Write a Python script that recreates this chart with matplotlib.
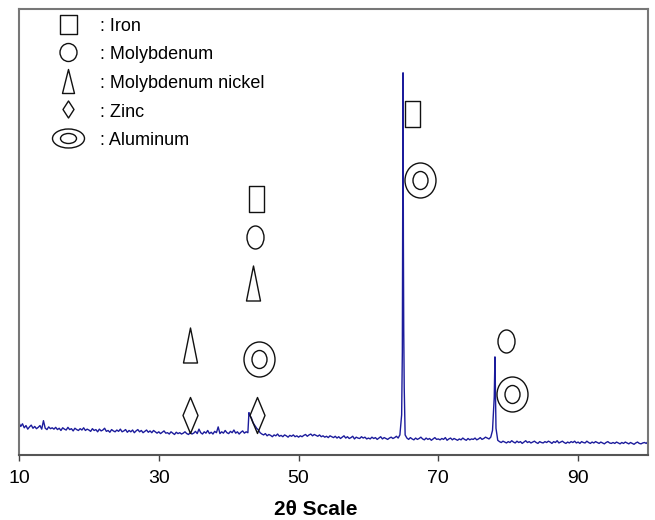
import matplotlib.pyplot as plt
import numpy as np
from matplotlib.path import Path
from matplotlib.transforms import Affine2D
from matplotlib.lines import Line2D

plt.rcParams['font.family'] = ['Liberation Sans', 'DejaVu Sans']

# XRD scan, 0.25 deg steps from 10 to 100 (counts)
scan_start = 10.0
scan_step = 0.25
scan_counts = [
    72, 64, 70, 61, 66, 58, 63, 67, 60, 64, 59, 62, 66, 58, 77, 60, 57, 63, 59, 61,  # 10
    58, 62, 57, 60, 55, 61, 58, 56, 62, 57, 59, 54, 60, 57, 55, 59, 56, 61, 55, 58,  # 15
    56, 53, 59, 55, 57, 52, 58, 54, 56, 60, 53, 55, 51, 57, 54, 52, 56, 53, 58, 52,  # 20
    54, 57, 51, 55, 52, 56, 50, 54, 57, 52, 55, 50, 53, 56, 51, 54, 50, 55, 52, 49,  # 25
    52, 48, 51, 54, 49, 50, 47, 52, 49, 46, 51, 48, 50, 47, 49, 52, 48, 46, 50, 47,  # 30
    49, 53, 48, 58, 50, 47, 52, 49, 55, 48, 51, 47, 53, 50, 63, 48, 52, 49, 55, 50,  # 35
    48, 53, 50, 56, 49, 52, 47, 51, 54, 49, 52, 50, 90, 83, 72, 66, 60, 56, 50, 47,  # 40
    45, 48, 43, 46, 44, 41, 45, 43, 47, 42, 44, 41, 45, 43, 40, 44, 42, 45, 41, 43,  # 45
    40, 43, 41, 44, 46, 42, 45, 47, 43, 46, 44, 42, 45, 41, 43, 40, 42, 39, 43, 41,  # 50
    39, 42, 38, 41, 37, 40, 43, 38, 41, 37, 39, 42, 36, 40, 38, 37, 41, 38, 40, 36,  # 55
    38, 36, 40, 37, 39, 35, 38, 41, 36, 39, 37, 35, 38, 40, 37, 39, 42, 38, 45, 90,  # 60
    480, 45, 38, 35, 39, 36, 34, 38, 35, 37, 40, 36, 34, 38, 35, 37, 33, 36, 39, 35,  # 65
    36, 34, 37, 35, 39, 33, 36, 38, 34, 37, 35, 33, 36, 34, 38, 35, 33, 37, 34, 36,  # 70
    35, 38, 34, 36, 39, 35, 37, 40, 38, 36, 40, 55, 130, 60, 33, 30, 28, 31, 29, 27,  # 75
    30, 28, 32, 29, 27, 31, 28, 30, 26, 29, 32, 28, 30, 27, 29, 31, 28, 26, 30, 28,  # 80
    27, 30, 28, 31, 29, 26, 30, 28, 32, 27, 29, 31, 28, 26, 29, 27, 30, 28, 31, 27,  # 85
    29, 26, 30, 28, 27, 31, 28, 26, 29, 27, 30, 28, 26, 29, 27, 25, 28, 30, 27, 26,  # 90
    28, 26, 29, 27, 25, 28, 26, 29, 27, 25, 28, 26, 24, 27, 29, 26, 25, 27, 28, 26,  # 95
    30,
]

# extra points on the sharp peak tops
peak_theta = [42.9, 64.85, 64.95, 65.05, 65.12, 78.1]
peak_counts = [95, 230, 857, 280, 150, 220]

# phase labels: 2theta position and height of each symbol
iron_theta, iron_h = [43.95, 66.2], [573, 765]
moly_theta, moly_h = [43.7, 79.7], [489, 256]
moni_theta, moni_h = [34.5, 43.5], [247, 385]
zinc_theta, zinc_h = [34.5, 44.0], [90, 90]
alu_theta, alu_h = [44.4, 67.4, 80.6], [215, 617, 136]

phase_names = [': Iron', ': Molybdenum', ': Molybdenum nickel', ': Zinc', ': Aluminum']


def rect(w, h):
    return Path([(-w / 2, -h / 2), (w / 2, -h / 2), (w / 2, h / 2), (-w / 2, h / 2), (-w / 2, -h / 2)],
                [Path.MOVETO, Path.LINETO, Path.LINETO, Path.LINETO, Path.CLOSEPOLY])


def ellipse(w, h):
    return Affine2D().scale(w / 2, h / 2).transform_path(Path.unit_circle())


def ring(w, h, wi, hi):
    return Path.make_compound_path(ellipse(w, h), ellipse(wi, hi))


def spike(w, h):
    return Path([(0, h / 2), (w / 2, -h / 2), (-w / 2, -h / 2), (0, h / 2)],
                [Path.MOVETO, Path.LINETO, Path.LINETO, Path.CLOSEPOLY])


def diamond(w, h):
    return Path([(0, h / 2), (w / 2, 0), (0, -h / 2), (-w / 2, 0), (0, h / 2)],
                [Path.MOVETO, Path.LINETO, Path.LINETO, Path.LINETO, Path.CLOSEPOLY])


# marker shapes in pixels (plot, legend)
shapes_plot = [(rect(15, 26), 26), (ellipse(17, 23), 23), (spike(14, 35), 35),
               (diamond(15, 36), 36), (ring(31, 35, 15, 18), 35)]
shapes_leg = [(rect(17, 19), 19), (ellipse(17, 18), 18), (spike(12, 24), 24),
              (diamond(11, 17), 17), (ring(32, 19, 16, 10), 32)]

two_theta = np.concatenate([scan_start + scan_step * np.arange(len(scan_counts)), peak_theta])
counts = np.concatenate([scan_counts, peak_counts])
order = np.argsort(two_theta)

fig = plt.figure(figsize=(6.55, 5.2), dpi=100)
ax = fig.add_axes([19 / 655, 65 / 520, 629 / 655, 446 / 520])

ax.plot(two_theta[order], counts[order], color='#1c1c9c', lw=1.0)

phases = [(iron_theta, iron_h), (moly_theta, moly_h), (moni_theta, moni_h),
          (zinc_theta, zinc_h), (alu_theta, alu_h)]
for (tx, hy), (mk, size) in zip(phases, shapes_plot):
    ax.plot(tx, hy, linestyle='none', marker=mk, markersize=size * 0.72,
            markerfacecolor='none', markeredgecolor='#111111', markeredgewidth=1.0)

handles = [Line2D([], [], linestyle='none', marker=mk, markersize=size * 0.72,
                  markerfacecolor='none', markeredgecolor='#111111', markeredgewidth=1.0)
           for mk, size in shapes_leg]
ax.legend(handles, phase_names, loc='upper left', bbox_to_anchor=(0.049, 0.984),
          frameon=False, fontsize=13, borderpad=0, borderaxespad=0,
          handlelength=2.0, handleheight=1.1, handletextpad=0.78, labelspacing=0.54)

ax.set_xlim(10, 100)
ax.set_ylim(0, 1000)
ax.set_xticks([10, 30, 50, 70, 90])
ax.set_yticks([])
ax.tick_params(axis='x', direction='out', length=4, width=1, color='#444444',
               labelsize=14, pad=7)
for s in ax.spines.values():
    s.set_color('#777777')
    s.set_linewidth(1.5)
ax.spines['bottom'].set_color('#555555')

ax.set_xlabel('2θ Scale', fontsize=15, fontweight='bold')
ax.xaxis.set_label_coords(0.472, -0.1)

fig.savefig('out.png', dpi=100)
